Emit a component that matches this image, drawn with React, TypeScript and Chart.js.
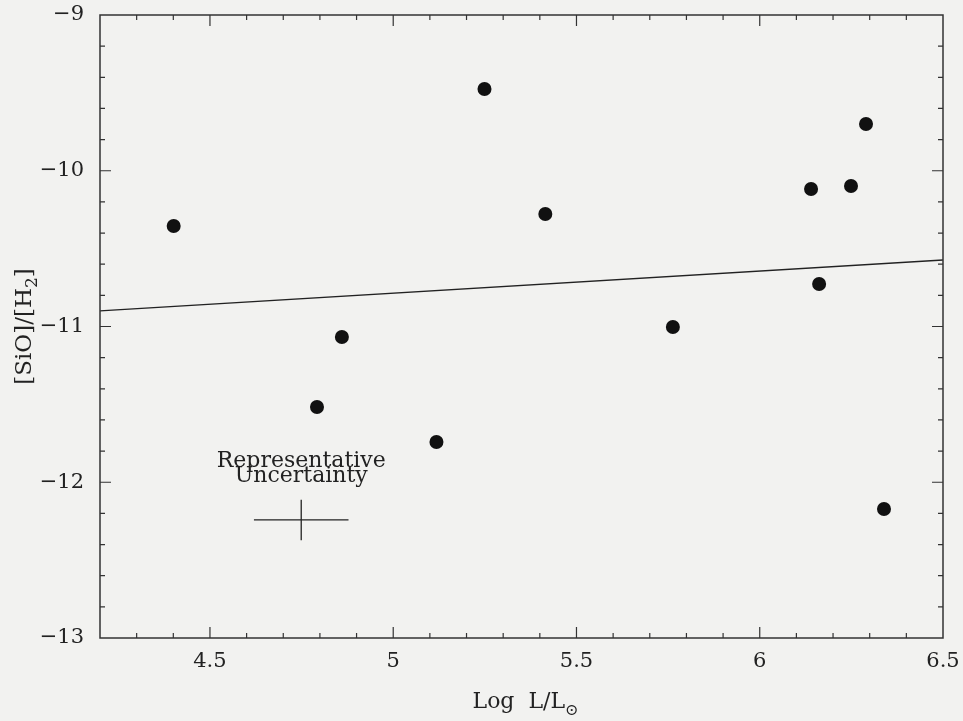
import React, { useEffect, useRef } from "react";
import { Chart, registerables } from "chart.js";
Chart.register(...registerables);

// Data
const luminosity = [4.401, 4.792, 4.86, 5.118, 5.249, 5.415, 5.763, 6.14, 6.162, 6.249, 6.29, 6.339];
const sioAbundance = [-10.355, -11.517, -11.067, -11.742, -9.475, -10.278, -11.003, -10.117, -10.727, -10.098, -9.7, -12.172];
const fitX = [4.2, 6.5];
const fitY = [-10.9, -10.573];
const errCenter = [4.749, -12.242];
const errHalf = [0.129, 0.13];
const errLabelAnchor = [4.749, -11.864];
const errLabelLines = ["Representative", "Uncertainty"];
const xTickValues = [4.5, 5, 5.5, 6, 6.5];
const yTickValues = [-13, -12, -11, -10, -9];
const xRange = [4.2, 6.5];
const yRange = [-13, -9];
const xMinorStep = 0.1;
const yMinorStep = 0.2;

const FONT = "'DejaVu Serif', 'Liberation Serif', serif";
const INK = "#222";

const framePlugin = {
  id: "frame",
  afterDraw(chart: any) {
    const { ctx, chartArea: a, scales } = chart;
    const xs = scales.x;
    const ys = scales.y;
    ctx.save();
    ctx.strokeStyle = "#333";
    ctx.lineWidth = 1.5;
    ctx.strokeRect(a.left, a.top, a.right - a.left, a.bottom - a.top);
    ctx.lineWidth = 1.2;
    const isMajor = (v: number, majors: number[]) => majors.some((m) => Math.abs(m - v) < 1e-6);
    const nx = Math.round((xRange[1] - xRange[0]) / xMinorStep);
    for (let i = 1; i < nx; i++) {
      const v = xRange[0] + i * xMinorStep;
      const px = xs.getPixelForValue(v);
      const len = isMajor(v, xTickValues) ? 11 : 5;
      ctx.beginPath();
      ctx.moveTo(px, a.bottom);
      ctx.lineTo(px, a.bottom - len);
      ctx.moveTo(px, a.top);
      ctx.lineTo(px, a.top + len);
      ctx.stroke();
    }
    const ny = Math.round((yRange[1] - yRange[0]) / yMinorStep);
    for (let i = 1; i < ny; i++) {
      const v = yRange[0] + i * yMinorStep;
      const py = ys.getPixelForValue(v);
      const len = isMajor(v, yTickValues) ? 11 : 5;
      ctx.beginPath();
      ctx.moveTo(a.left, py);
      ctx.lineTo(a.left + len, py);
      ctx.moveTo(a.right, py);
      ctx.lineTo(a.right - len, py);
      ctx.stroke();
    }
    // uncertainty label
    ctx.fillStyle = INK;
    ctx.font = `22px ${FONT}`;
    ctx.textAlign = "center";
    ctx.textBaseline = "middle";
    const lx = xs.getPixelForValue(errLabelAnchor[0]);
    const ly = ys.getPixelForValue(errLabelAnchor[1]);
    errLabelLines.forEach((t, i) => ctx.fillText(t, lx, ly + i * 15));

    // x title: Log L/L⊙
    ctx.textAlign = "left";
    ctx.textBaseline = "alphabetic";
    const big = `22px ${FONT}`;
    const small = `16px ${FONT}`;
    const xParts = [
      { t: "Log  L/L", f: big, dy: 0 },
      { t: "\u2299", f: small, dy: 7 },
    ];
    const measure = (parts: any[]) =>
      parts.reduce((w, p) => {
        ctx.font = p.f;
        return w + ctx.measureText(p.t).width;
      }, 0);
    let w = measure(xParts);
    let cx = (a.left + a.right) / 2 + 4 - w / 2;
    const by = a.bottom + 70;
    xParts.forEach((p) => {
      ctx.font = p.f;
      ctx.fillText(p.t, cx, by + p.dy);
      cx += ctx.measureText(p.t).width;
    });
    // y title: [SiO]/[H2]
    const bigY = `23px ${FONT}`;
    const smallY = `17px ${FONT}`;
    const yParts = [
      { t: "[SiO]/[H", f: bigY, dy: 0 },
      { t: "2", f: smallY, dy: 6 },
      { t: "]", f: bigY, dy: 0 },
    ];
    w = measure(yParts);
    ctx.translate(31, (a.top + a.bottom) / 2);
    ctx.rotate(-Math.PI / 2);
    cx = -w / 2;
    yParts.forEach((p) => {
      ctx.font = p.f;
      ctx.fillText(p.t, cx, p.dy);
      cx += ctx.measureText(p.t).width;
    });
    ctx.restore();
  },
};

export default function App() {
  const ref = useRef<HTMLCanvasElement>(null);
  useEffect(() => {
    if (!ref.current) return;
    const lineStyle = {
      type: "line" as const,
      showLine: true,
      pointRadius: 0,
      borderColor: INK,
      borderWidth: 1.3,
      fill: false,
    };
    const chart = new Chart(ref.current, {
      type: "scatter",
      data: {
        datasets: [
          {
            label: "sources",
            data: luminosity.map((x, i) => ({ x, y: sioAbundance[i] })),
            pointRadius: 7,
            pointBackgroundColor: "#111",
            pointBorderWidth: 0,
            backgroundColor: "#111",
          },
          { ...lineStyle, label: "fit", data: fitX.map((x, i) => ({ x, y: fitY[i] })) },
          {
            ...lineStyle,
            label: "errX",
            data: [
              { x: errCenter[0] - errHalf[0], y: errCenter[1] },
              { x: errCenter[0] + errHalf[0], y: errCenter[1] },
            ],
          },
          {
            ...lineStyle,
            label: "errY",
            data: [
              { x: errCenter[0], y: errCenter[1] - errHalf[1] },
              { x: errCenter[0], y: errCenter[1] + errHalf[1] },
            ],
          },
        ] as any,
      },
      options: {
        animation: false,
        responsive: false,
        layout: { padding: { top: 15, right: 20, left: 0, bottom: 0 } },
        plugins: { legend: { display: false }, tooltip: { enabled: false } },
        scales: {
          x: {
            type: "linear",
            min: xRange[0],
            max: xRange[1],
            grid: { display: false, drawTicks: false },
            border: { display: false },
            afterBuildTicks: (s: any) => {
              s.ticks = xTickValues.map((value) => ({ value }));
            },
            afterFit: (s: any) => {
              s.height = 83;
              s.paddingLeft = 0;
              s.paddingRight = 0;
            },
            ticks: {
              padding: 11,
              color: INK,
              font: { family: FONT, size: 21 },
              callback: (v: any) => String(v),
            },
          },
          y: {
            type: "linear",
            min: yRange[0],
            max: yRange[1],
            grid: { display: false, drawTicks: false },
            border: { display: false },
            afterBuildTicks: (s: any) => {
              s.ticks = yTickValues.map((value) => ({ value }));
            },
            afterFit: (s: any) => {
              s.width = 100;
              s.paddingTop = 0;
              s.paddingBottom = 0;
            },
            ticks: {
              padding: 16,
              color: INK,
              font: { family: FONT, size: 21 },
              callback: (v: any) => String(v).replace("-", "\u2212"),
            },
          },
        },
      },
      plugins: [framePlugin],
    });
    return () => chart.destroy();
  }, []);
  return (
    <div style={{ position: "fixed", left: 0, top: 0, width: 963, height: 721, background: "#f2f2f0" }}>
      <canvas ref={ref} width={963} height={721} style={{ width: 963, height: 721, display: "block" }} />
    </div>
  );
}
